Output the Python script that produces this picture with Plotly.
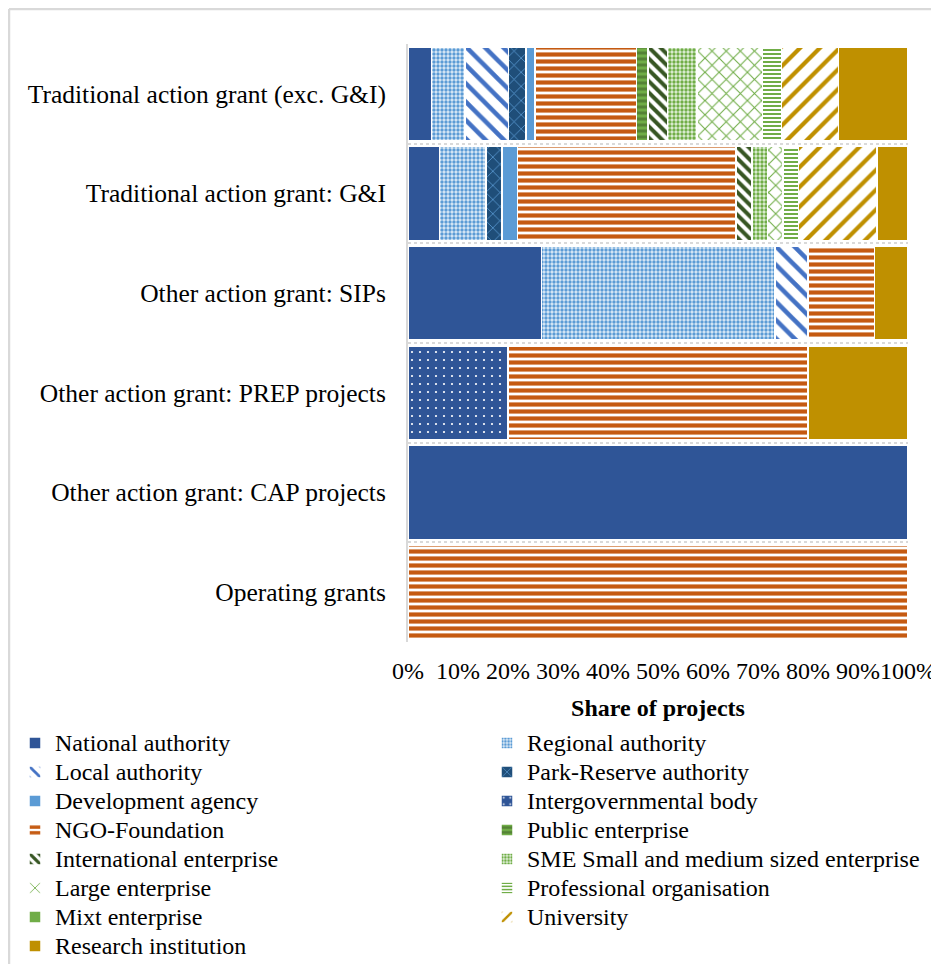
import plotly.graph_objects as go

categories = [
    "Traditional action grant (exc. G&I)",
    "Traditional action grant: G&I",
    "Other action grant: SIPs",
    "Other action grant: PREP projects",
    "Other action grant: CAP projects",
    "Operating grants",
]

# Share of projects (%) per applicant type, in category order above
national_authority = [4.7, 6.25, 26.7, 0, 100, 0]
regional_authority = [6.7, 9.375, 46.7, 0, 0, 0]
local_authority = [8.7, 0, 6.6, 0, 0, 0]
park_reserve_authority = [3.5, 3.125, 0, 0, 0, 0]
development_agency = [1.8, 3.125, 0, 0, 0, 0]
intergovernmental_body = [0, 0, 0, 20, 0, 0]
ngo_foundation = [20.3, 43.75, 13.3, 60, 0, 100]
public_enterprise = [2.3, 0, 0, 0, 0, 0]
international_enterprise = [3.9, 3.125, 0, 0, 0, 0]
sme_enterprise = [5.9, 3.125, 0, 0, 0, 0]
large_enterprise = [13.1, 3.125, 0, 0, 0, 0]
professional_organisation = [3.8, 3.125, 0, 0, 0, 0]
mixt_enterprise = [0, 0, 0, 0, 0, 0]
university = [11.4, 15.625, 0, 0, 0, 0]
research_institution = [13.9, 6.25, 6.7, 20, 0, 0]

x_tick_values = [0, 10, 20, 30, 40, 50, 60, 70, 80, 90, 100]
x_tick_labels = ["0%", "10%", "20%", "30%", "40%", "50%", "60%", "70%", "80%", "90%", "100%"]

# (name, values, legend column, pattern style)
series = [
    ("National authority", national_authority, "legend",
     dict(shape="", fgcolor="#2F5597", bgcolor="#2F5597")),
    ("Regional authority", regional_authority, "legend2",
     dict(shape=".", fgcolor="#5B9BD5", bgcolor="#DDEBF7", size=4, solidity=0.55)),
    ("Local authority", local_authority, "legend",
     dict(shape="\\", fgcolor="#4472C4", bgcolor="#FFFFFF", size=13, solidity=0.35)),
    ("Park-Reserve authority", park_reserve_authority, "legend2",
     dict(shape="x", fgcolor="#5B9BD5", bgcolor="#1F4E79", size=10, solidity=0.15)),
    ("Development agency", development_agency, "legend",
     dict(shape="", fgcolor="#5B9BD5", bgcolor="#5B9BD5")),
    ("Intergovernmental body", intergovernmental_body, "legend2",
     dict(shape=".", fgcolor="#FFFFFF", bgcolor="#2F5597", size=8, solidity=0.06)),
    ("NGO-Foundation", ngo_foundation, "legend",
     dict(shape="-", fgcolor="#C55A11", bgcolor="#FFFFFF", size=7, solidity=0.6)),
    ("Public enterprise", public_enterprise, "legend2",
     dict(shape="-", fgcolor="#548235", bgcolor="#70AD47", size=6, solidity=0.5)),
    ("International enterprise", international_enterprise, "legend",
     dict(shape="\\", fgcolor="#375623", bgcolor="#FFFFFF", size=8, solidity=0.5)),
    ("SME Small and medium sized enterprise", sme_enterprise, "legend2",
     dict(shape=".", fgcolor="#70AD47", bgcolor="#E2F0D9", size=4, solidity=0.55)),
    ("Large enterprise", large_enterprise, "legend",
     dict(shape="x", fgcolor="#70AD47", bgcolor="#FFFFFF", size=10, solidity=0.2)),
    ("Professional organisation", professional_organisation, "legend2",
     dict(shape="-", fgcolor="#70AD47", bgcolor="#FFFFFF", size=4, solidity=0.5)),
    ("Mixt enterprise", mixt_enterprise, "legend",
     dict(shape="", fgcolor="#70AD47", bgcolor="#70AD47")),
    ("University", university, "legend2",
     dict(shape="/", fgcolor="#BF9000", bgcolor="#FFFFFF", size=14, solidity=0.3)),
    ("Research institution", research_institution, "legend",
     dict(shape="", fgcolor="#BF9000", bgcolor="#BF9000")),
]

FONT = "Liberation Serif, Times New Roman, serif"

fig = go.Figure()
for name, values, legend_id, pat in series:
    solid = pat["shape"] == ""
    marker = dict(color=pat["bgcolor"], line=dict(color="#FFFFFF", width=1.5))
    if not solid:
        marker["pattern"] = dict(fillmode="replace", **pat)
    fig.add_trace(go.Bar(
        name='<span style="font-size:24px">' + name + "</span>",
        y=categories, x=values, orientation="h", marker=marker,
        legend=legend_id,
    ))

legend_common = dict(
    orientation="v",
    xref="paper",
    yref="container",
    xanchor="left",
    yanchor="top",
    font=dict(family=FONT, size=20, color="#000000"),
    bgcolor="rgba(0,0,0,0)",
    traceorder="normal",
)

fig.update_layout(
    barmode="stack",
    bargap=0.06,
    width=931,
    height=956,
    margin=dict(l=400, r=31, t=36, b=322),
    paper_bgcolor="#FFFFFF",
    plot_bgcolor="#FFFFFF",
    font=dict(family=FONT, size=24, color="#000000"),
    xaxis=dict(
        range=[0, 100],
        tickvals=x_tick_values,
        ticktext=x_tick_labels,
        tickangle=0,
        showgrid=False,
        zeroline=False,
        showline=False,
        ticks="",
        automargin=False,
        ticklabelstandoff=12,
        tickfont=dict(size=24),
        title=dict(text="<b>Share of projects</b>", font=dict(size=24), standoff=16),
    ),
    yaxis=dict(
        autorange="reversed",
        tickson="boundaries",
        showgrid=True,
        gridcolor="#D9D9D9",
        griddash="dot",
        gridwidth=2,
        showline=True,
        linecolor="#D9D9D9",
        linewidth=2,
        ticks="",
        automargin=False,
        ticklabelstandoff=15,
        tickfont=dict(size=25.5),
    ),
    legend=dict(x=-0.786, y=0.2516, **legend_common),
    legend2=dict(x=0.158, y=0.2516, **legend_common),
    shapes=[
        dict(type="line", xref="paper", yref="paper", x0=-0.798, x1=1.2, y0=1.0585, y1=1.0585,
             line=dict(color="#D9D9D9", width=2.5)),
        dict(type="line", xref="paper", yref="paper", x0=-0.798, x1=-0.798, y0=1.0585, y1=-0.6,
             line=dict(color="#D9D9D9", width=2.5)),
    ],
)

fig.write_html("out.html")
